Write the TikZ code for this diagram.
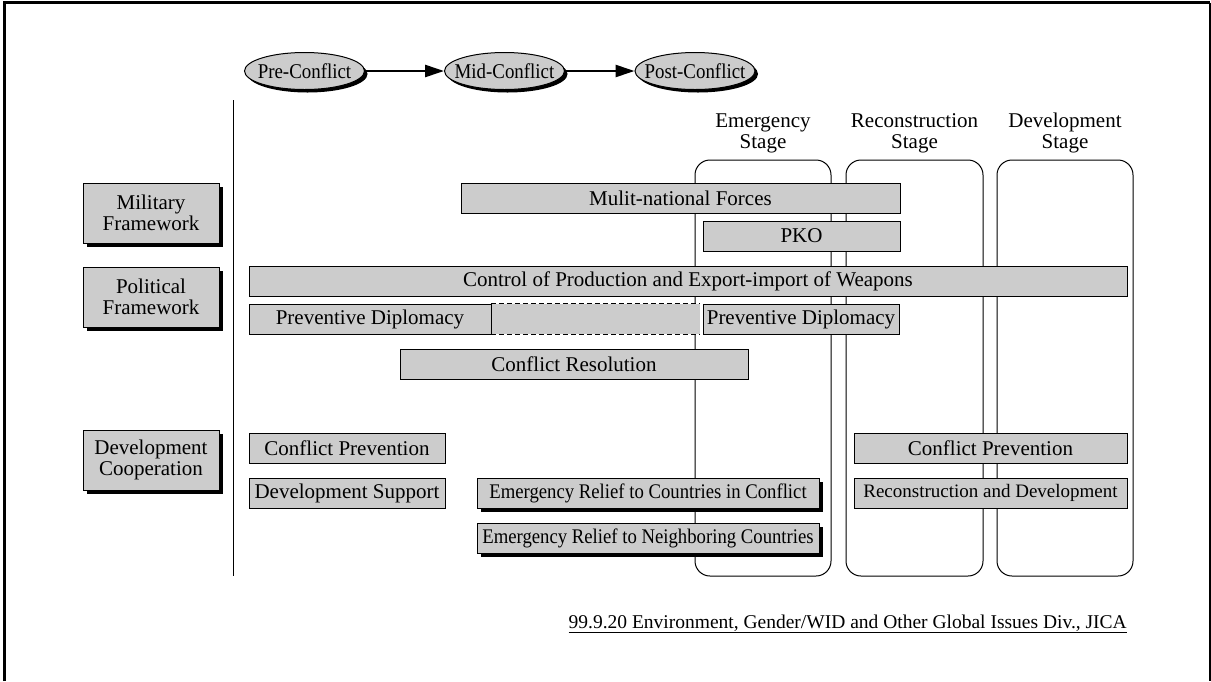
\documentclass[tikz,border=0pt]{standalone}
\usepackage{fontspec}
\setmainfont{Liberation Serif}
\newfontfamily\narrowserif[FakeStretch=0.9]{Liberation Serif}
\usetikzlibrary{arrows.meta,shadows,shapes.geometric}
\definecolor{barfill}{HTML}{CCCCCC}

\begin{document}
\begin{tikzpicture}[x=1pt,y=-1pt,
  every node/.style={inner sep=0pt, font=\fontsize{21}{21}\selectfont},
  bar/.style={draw=black, fill=barfill, line width=1pt, minimum height=30pt},
  smallbar/.style={bar, font=\fontsize{19}{20}\selectfont},
  reliefbar/.style={bar, font=\narrowserif\fontsize{20.8}{22}\selectfont},
  shadowed/.style={drop shadow={shadow xshift=4pt, shadow yshift=-4pt, fill=black, opacity=1}},
  category/.style={bar, shadowed, minimum width=136pt, minimum height=60pt, align=center},
  phase/.style={ellipse, draw=black, fill=barfill, line width=1pt,
    inner xsep=-20pt, inner ysep=0pt,
    minimum width=120pt, minimum height=37pt, font=\narrowserif\fontsize{21}{21}\selectfont,
    drop shadow={shadow xshift=3pt, shadow yshift=-3pt, fill=black, opacity=1}},
  stagebox/.style={draw=black, line width=1pt, rounded corners=15pt,
    minimum height=416pt},
  stagelabel/.style={align=center},
  flow/.style={line width=2.6pt, -{Triangle[length=19pt,width=12pt]}},
  gapline/.style={line width=1pt, dash pattern=on 5pt off 3pt}
]
\useasboundingbox (0,0) rectangle (1211,681);

% page frame
\coordinate (fBL) at (4,681);
\coordinate (fTL) at (4,2.5);
\coordinate (fTR) at (1209.5,2.5);
\coordinate (fBR) at (1209.5,681);
\draw[line width=3pt] (fBL) -- (fTL) -- (fTR);
\draw[line width=2pt] (fTR) -- (fBR);

% conflict phases
\node[phase] (pre)  at (304.5,71) {Pre-Conflict};
\node[phase] (mid)  at (504.5,71) {Mid-Conflict};
\node[phase] (post) at (695,71)   {Post-Conflict};
\draw[flow] (pre) -- (mid);
\draw[flow] (mid) -- (post);

% separator between categories and timeline
\coordinate (sepTop) at (233,100);
\coordinate (sepBot) at (233,576);
\draw[line width=1pt] (sepTop) -- (sepBot);

% post-conflict stages
\node[stagelabel] (emLbl) at (763,133)   {Emergency\\Stage};
\node[stagelabel] (rcLbl) at (914.5,133) {Reconstruction\\Stage};
\node[stagelabel] (dvLbl) at (1065,133)  {Development\\Stage};
\node[stagebox, minimum width=136pt] (emBox) at (763,368)   {};
\node[stagebox, minimum width=137pt] (rcBox) at (914.5,368) {};
\node[stagebox, minimum width=136pt] (dvBox) at (1065,368)  {};

% categories
\node[category] (mil) at (151,213) {Military\\Framework};
\node[category] (pol) at (151,297) {Political\\Framework};
\node[category] (dev) at (151,460) {Development\\Cooperation};

% military framework
\node[bar, minimum width=439pt] (mnf) at (680.5,198) {Mulit-national Forces};
\node[bar, minimum width=197pt] (pko) at (801.5,236) {PKO};

% political framework
\node[bar, minimum width=878pt] (ctrl) at (688,281) {Control of Production and Export-import of Weapons};
\node[fill=barfill, minimum width=209pt, minimum height=30pt] (gap) at (595.5,319) {};
\draw[gapline] (gap.north west) -- (gap.north east);
\draw[gapline] (gap.south west) -- (gap.south east);
\node[bar, minimum width=242pt] (pdA) at (370,319) {Preventive Diplomacy};
\node[bar, minimum width=196pt] (pdB) at (801,319) {Preventive Diplomacy};
\node[bar, minimum width=348pt] (cres) at (574,364.5) {Conflict Resolution};

% development cooperation
\node[bar, minimum width=196pt] (cpA) at (347,448) {Conflict Prevention};
\node[bar, minimum width=196pt] (dsup) at (347,493) {Development Support};
\node[reliefbar, shadowed, minimum width=342pt] (erc) at (648,493) {Emergency Relief to Countries in Conflict};
\node[reliefbar, shadowed, minimum width=342pt] (ern) at (648,538) {Emergency Relief to Neighboring Countries};
\node[bar, minimum width=273pt] (cpB) at (990.5,448) {Conflict Prevention};
\node[smallbar, minimum width=273pt] (rdev) at (990.5,493) {Reconstruction and Development};

% source note
\node[anchor=base east, font=\fontsize{19.5}{20}\selectfont] (note) at (1127,628)
  {\underline{99.9.20 Environment, Gender/WID and Other Global Issues Div., JICA}};
\end{tikzpicture}
\end{document}
